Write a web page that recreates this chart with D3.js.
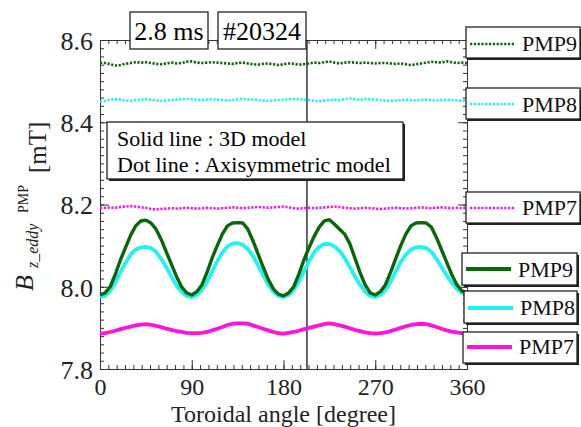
<!DOCTYPE html>
<html>
<head>
<meta charset="utf-8">
<script src="https://cdn.jsdelivr.net/npm/d3@7"></script>
<style>
body { margin: 0; background: #fff; }
svg text { font-family: "Liberation Serif", "Times New Roman", serif; }
.axis path, .axis line { stroke: #333; }
.axis text { fill: #222; }
</style>
</head>
<body>
<div id="chart"></div>
<script>
// toroidal angle, every 5 degrees
var angles = d3.range(0, 361, 5);

// solid line : 3D model
var solidPMP9 = [7.980, 7.985, 8.000, 8.030, 8.065, 8.095, 8.125, 8.148, 8.160, 8.162, 8.155, 8.140, 8.115, 8.085, 8.055, 8.025, 8.000, 7.985, 7.980,
  7.988, 8.005, 8.035, 8.070, 8.100, 8.128, 8.148, 8.155, 8.156, 8.155, 8.140, 8.112, 8.080, 8.048, 8.018, 7.995, 7.982, 7.978,
  7.985, 8.000, 8.030, 8.065, 8.095, 8.122, 8.145, 8.160, 8.163, 8.152, 8.140, 8.128, 8.105, 8.070, 8.035, 8.005, 7.985, 7.980,
  7.988, 8.005, 8.035, 8.068, 8.100, 8.128, 8.148, 8.155, 8.156, 8.155, 8.145, 8.120, 8.090, 8.060, 8.030, 8.005, 7.990, 7.985];
var solidPMP8 = [7.975, 7.978, 7.990, 8.010, 8.035, 8.058, 8.078, 8.090, 8.096, 8.097, 8.094, 8.085, 8.068, 8.048, 8.025, 8.003, 7.988, 7.978, 7.975,
  7.980, 7.992, 8.012, 8.037, 8.062, 8.083, 8.098, 8.105, 8.106, 8.102, 8.092, 8.075, 8.052, 8.028, 8.005, 7.988, 7.978, 7.975,
  7.980, 7.992, 8.012, 8.037, 8.062, 8.083, 8.097, 8.104, 8.104, 8.098, 8.087, 8.070, 8.048, 8.025, 8.005, 7.988, 7.978, 7.975,
  7.980, 7.992, 8.012, 8.037, 8.060, 8.078, 8.090, 8.096, 8.097, 8.094, 8.085, 8.068, 8.048, 8.028, 8.010, 7.995, 7.985, 7.980];
var solidPMP7 = [7.886, 7.887, 7.890, 7.893, 7.897, 7.900, 7.903, 7.906, 7.908, 7.909, 7.907, 7.905, 7.902, 7.898, 7.895, 7.892, 7.890, 7.888, 7.887,
  7.887, 7.888, 7.890, 7.894, 7.898, 7.902, 7.907, 7.910, 7.911, 7.911, 7.910, 7.906, 7.902, 7.898, 7.894, 7.890, 7.887, 7.886,
  7.888, 7.890, 7.893, 7.897, 7.900, 7.903, 7.906, 7.909, 7.911, 7.909, 7.906, 7.903, 7.899, 7.895, 7.892, 7.889, 7.887, 7.886,
  7.887, 7.889, 7.892, 7.896, 7.900, 7.904, 7.907, 7.909, 7.910, 7.909, 7.906, 7.902, 7.898, 7.894, 7.891, 7.889, 7.887, 7.886];

// dot line : axisymmetric model
var dotPMP9 = [8.545, 8.544, 8.541, 8.538, 8.539, 8.542, 8.544, 8.546, 8.545, 8.546,
  8.544, 8.542, 8.541, 8.543, 8.545, 8.543, 8.544, 8.547, 8.548, 8.545,
  8.544, 8.545, 8.546, 8.545, 8.544, 8.543, 8.542, 8.544, 8.545, 8.543,
  8.541, 8.540, 8.542, 8.543, 8.541, 8.539, 8.541, 8.543, 8.542, 8.540,
  8.541, 8.543, 8.545, 8.544, 8.546, 8.548, 8.545, 8.543, 8.545, 8.546,
  8.545, 8.544, 8.545, 8.544, 8.543, 8.544, 8.544, 8.543, 8.542, 8.543,
  8.541, 8.539, 8.541, 8.543, 8.545, 8.547, 8.546, 8.545, 8.548, 8.546,
  8.544, 8.545, 8.544];
var dotPMP8 = [8.450, 8.452, 8.455, 8.456, 8.455, 8.453, 8.452, 8.454, 8.455, 8.456,
  8.455, 8.453, 8.452, 8.453, 8.454, 8.455, 8.456, 8.457, 8.456, 8.455,
  8.454, 8.455, 8.456, 8.455, 8.454, 8.453, 8.454, 8.456, 8.457, 8.456,
  8.455, 8.454, 8.453, 8.452, 8.453, 8.454, 8.455, 8.456, 8.457, 8.456,
  8.455, 8.454, 8.452, 8.451, 8.453, 8.454, 8.455, 8.454, 8.456, 8.458,
  8.456, 8.454, 8.457, 8.456, 8.455, 8.454, 8.453, 8.452, 8.453, 8.454,
  8.455, 8.454, 8.453, 8.454, 8.455, 8.454, 8.453, 8.454, 8.455, 8.454,
  8.453, 8.452, 8.453];
var dotPMP7 = [8.191, 8.192, 8.193, 8.192, 8.194, 8.195, 8.196, 8.195, 8.193, 8.192,
  8.189, 8.188, 8.189, 8.190, 8.191, 8.190, 8.191, 8.192, 8.191, 8.190,
  8.191, 8.192, 8.191, 8.190, 8.191, 8.192, 8.193, 8.192, 8.191, 8.192,
  8.193, 8.194, 8.193, 8.192, 8.193, 8.194, 8.195, 8.193, 8.191, 8.190,
  8.191, 8.192, 8.191, 8.192, 8.193, 8.194, 8.195, 8.194, 8.192, 8.191,
  8.190, 8.191, 8.192, 8.191, 8.190, 8.189, 8.190, 8.191, 8.192, 8.191,
  8.190, 8.191, 8.192, 8.193, 8.192, 8.191, 8.192, 8.193, 8.192, 8.191,
  8.192, 8.191, 8.192];

var xTicks = [0, 90, 180, 270, 360];
var yTicks = [7.8, 8.0, 8.2, 8.4, 8.6];
var markerAngle = 203;

var green = "#0b650b", cyan = "#22f2f2", pink = "#ff14dc";
var serif = "Liberation Serif";

var width = 581, height = 427;
var svg = d3.select("#chart").append("svg")
  .attr("width", width).attr("height", height)
  .attr("font-family", serif);

var x = d3.scaleLinear().domain([0, 360]).range([100, 467]);
var y = d3.scaleLinear().domain([7.8, 8.6]).range([369, 40]);

// minor ticks: 11 per 90 deg on x, 0.02 on y
var xMinor = d3.range(0, 45).map(function(i) { return i * 90 / 11; }).concat([360]);
var yMinor = d3.range(0, 41).map(function(i) { return 7.8 + i * 0.02; });

function minorAxis(axis, vals) {
  return axis.tickValues(vals).tickSize(-4).tickSizeOuter(0).tickFormat("");
}
function axisG(tx, ty) {
  return svg.append("g").attr("class", "axis").attr("transform", "translate(" + tx + "," + ty + ")");
}

// bottom
axisG(0, 369).call(minorAxis(d3.axisBottom(x), xMinor));
axisG(0, 369)
  .call(d3.axisBottom(x).tickValues(xTicks).tickSize(-9).tickSizeOuter(0).tickPadding(0).tickFormat(d3.format("d")))
  .attr("font-family", serif).attr("font-size", 24)
  .selectAll("text").attr("y", 26).attr("dy", null);
// top
axisG(0, 40).call(minorAxis(d3.axisTop(x), xMinor));
axisG(0, 40).call(d3.axisTop(x).tickValues(xTicks).tickSize(-9).tickSizeOuter(0).tickFormat(""));
// left
axisG(100, 0).call(minorAxis(d3.axisLeft(y), yMinor));
axisG(100, 0)
  .call(d3.axisLeft(y).tickValues(yTicks).tickSize(-9).tickSizeOuter(0).tickPadding(7).tickFormat(d3.format(".1f")))
  .attr("font-family", serif).attr("font-size", 26)
  .selectAll("text").attr("dy", "0.36em");
// right
axisG(467, 0).call(minorAxis(d3.axisRight(y), yMinor));
axisG(467, 0).call(d3.axisRight(y).tickValues(yTicks).tickSize(-9).tickSizeOuter(0).tickFormat(""));

// time marker
svg.append("line")
  .attr("x1", x(markerAngle)).attr("x2", x(markerAngle))
  .attr("y1", y(8.6)).attr("y2", y(7.8))
  .attr("stroke", "#000").attr("stroke-width", 1.2);

var line = d3.line()
  .x(function(d, i) { return x(angles[i]); })
  .y(function(d) { return y(d); });

var series = [
  { v: dotPMP9, c: green, dot: true },
  { v: dotPMP8, c: cyan, dot: true },
  { v: dotPMP7, c: pink, dot: true },
  { v: solidPMP7, c: pink, dot: false },
  { v: solidPMP8, c: cyan, dot: false },
  { v: solidPMP9, c: green, dot: false }
];
series.forEach(function(s) {
  svg.append("path").datum(s.v)
    .attr("fill", "none")
    .attr("stroke", s.c)
    .attr("stroke-width", s.dot ? 2.6 : (s.c == green ? 3.4 : 3.8))
    .attr("stroke-dasharray", s.dot ? "2.2,1.6" : null)
    .attr("stroke-linejoin", "round")
    .attr("d", line);
});

// box with a small drop shadow
function box(x0, y0, w, h, shadow) {
  if (shadow) svg.append("rect").attr("x", x0 + 2).attr("y", y0 + 2).attr("width", w).attr("height", h).attr("fill", "#222");
  svg.append("rect").attr("x", x0).attr("y", y0).attr("width", w).attr("height", h)
    .attr("fill", "#fff").attr("stroke", "#222").attr("stroke-width", 1.3);
}

// title boxes
box(130, 12, 78, 37, false);
svg.append("text").attr("x", 169).attr("y", 40).attr("text-anchor", "middle").attr("font-size", 26).text("2.8 ms");
box(218, 12, 88, 37, false);
svg.append("text").attr("x", 262).attr("y", 40).attr("text-anchor", "middle").attr("font-size", 26).text("#20324");

// model note
box(107, 122, 296, 57, true);
svg.append("text").attr("x", 117).attr("y", 146).attr("font-size", 22).text("Solid line : 3D model");
svg.append("text").attr("x", 117).attr("y", 172).attr("font-size", 22).text("Dot line : Axisymmetric model");

// legends
var legends = [
  { name: "PMP9", c: green, dot: true,  bx: 466, by: 27,  bw: 114, bh: 31, ly: 44,  ty: 51 },
  { name: "PMP8", c: cyan,  dot: true,  bx: 466, by: 88,  bw: 114, bh: 31, ly: 104, ty: 112 },
  { name: "PMP7", c: pink,  dot: true,  bx: 466, by: 192, bw: 114, bh: 31, ly: 208, ty: 215 },
  { name: "PMP9", c: green, dot: false, bx: 462, by: 253, bw: 115, bh: 32, ly: 269, ty: 277 },
  { name: "PMP8", c: cyan,  dot: false, bx: 464, by: 291, bw: 113, bh: 32, ly: 308, ty: 315 },
  { name: "PMP7", c: pink,  dot: false, bx: 463, by: 332, bw: 114, bh: 31, ly: 347, ty: 354 }
];
legends.forEach(function(l) {
  box(l.bx, l.by, l.bw, l.bh, true);
  svg.append("line")
    .attr("x1", l.bx + 4).attr("x2", l.bx + 49)
    .attr("y1", l.ly).attr("y2", l.ly)
    .attr("stroke", l.c)
    .attr("stroke-width", l.dot ? 2.6 : 3.8)
    .attr("stroke-dasharray", l.dot ? "2.2,1.6" : null);
  svg.append("text").attr("x", l.bx + 56).attr("y", l.ty).attr("font-size", 22).attr("fill", "#111").text(l.name);
});

// axis titles
svg.append("text").attr("x", x(180)).attr("y", 422).attr("text-anchor", "middle")
  .attr("font-size", 24).attr("fill", "#222").text("Toroidal angle [degree]");

svg.append("text").attr("transform", "translate(33,291) rotate(-90)")
  .attr("font-size", 26).attr("font-style", "italic").attr("fill", "#222").text("B");
svg.append("text").attr("transform", "translate(38,268) rotate(-90)")
  .attr("font-size", 16).attr("font-style", "italic").attr("fill", "#222").text("z_eddy");
svg.append("text").attr("transform", "translate(28,213) rotate(-90)")
  .attr("font-size", 14).attr("fill", "#222").text("PMP");
svg.append("text").attr("transform", "translate(46,173) rotate(-90)")
  .attr("font-size", 25).attr("fill", "#222").text("[mT]");
</script>
</body>
</html>
